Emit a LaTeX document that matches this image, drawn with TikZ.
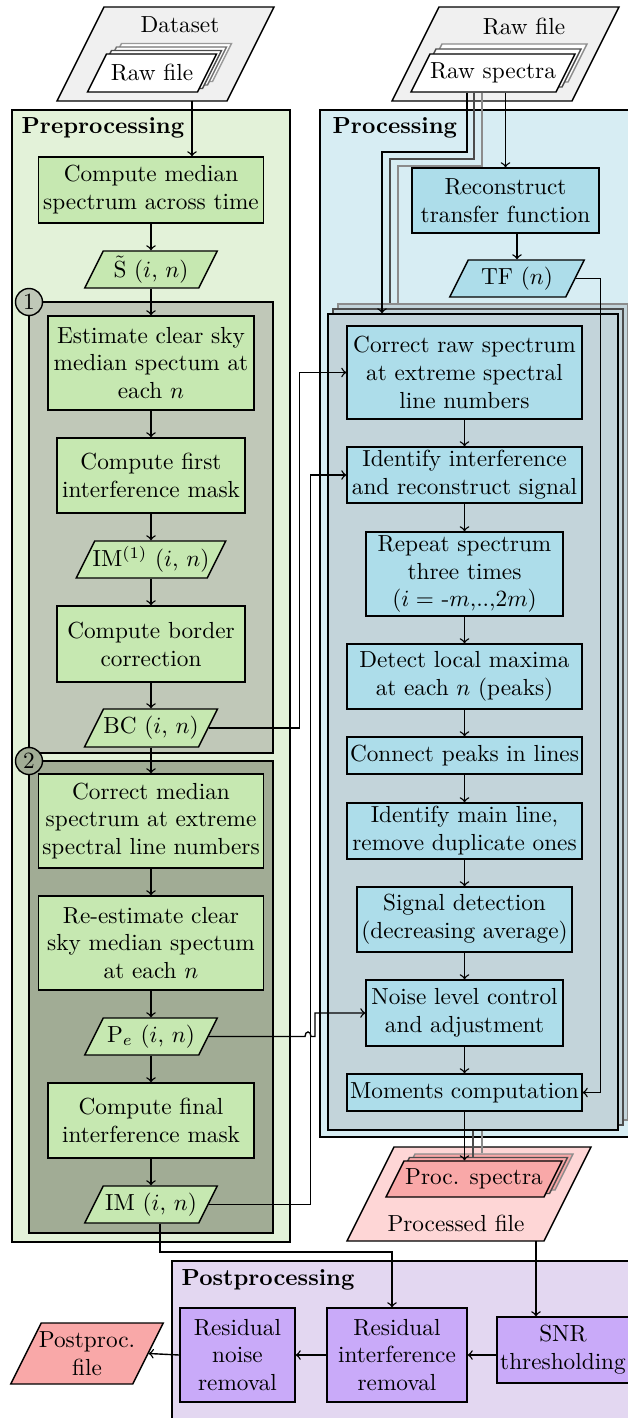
\documentclass[tikz,border=0pt]{standalone}
\usetikzlibrary{calc}

\definecolor{prebg}{HTML}{E3F2D9}
\definecolor{prefill}{HTML}{C6E8B1}
\definecolor{grpone}{HTML}{C0C8B8}
\definecolor{grptwo}{HTML}{A1AC95}
\definecolor{procbg}{HTML}{D7EDF3}
\definecolor{procfill}{HTML}{ADDDEA}
\definecolor{stackfill}{HTML}{C3D4DA}
\definecolor{outbg}{HTML}{FED6D6}
\definecolor{outfill}{HTML}{F9A8A8}
\definecolor{postbg}{HTML}{E3D7F1}
\definecolor{postfill}{HTML}{C9AAF9}
\definecolor{filebg}{HTML}{F0F0F0}

\def\pxu{0.43pt}
\tikzset{
  sz/.style 2 args={minimum width=#1*\pxu, minimum height=#2*\pxu},
  box/.style={draw, align=center, inner sep=0pt},
  prebox/.style={box, fill=prefill},
  procbox/.style={box, fill=procfill},
  postbox/.style={box, fill=postfill},
  stackbox/.style={draw, fill=stackfill, inner sep=0pt},
  dat/.style={align=center, inner sep=0pt},
  grpnum/.style={circle, draw, inner sep=0pt, minimum size=27*\pxu},
  grplab/.style={anchor=west, inner sep=0pt, font=\bfseries},
}
% rovnobeznik: farba ciary; x, y, sirka, vyska, vypln
\newcommand{\datshape}[6][black]{%
  \draw[draw=#1, fill=#6] (#2-#4/2-#5/4,#3+#5/2) -- (#2+#4/2-#5/4,#3+#5/2)
    -- (#2+#4/2+#5/4,#3-#5/2) -- (#2-#4/2+#5/4,#3-#5/2) -- cycle;}
% rovnobeznik s uzlom: farba; meno, x, y, sirka, vyska, vypln, text
\newcommand{\datnode}[8][black]{%
  \datshape[#1]{#3}{#4}{#5}{#6}{#7}
  \node[dat, sz={#5}{#6}] (#2) at (#3,#4) {#8};}

\begin{document}
\begin{tikzpicture}[x=0.43pt, y=-0.43pt, semithick]
\useasboundingbox (0,0) rectangle (627,1418);
% dataset
\datshape{165.5}{54}{170}{94}{filebg}
\node[dat] (dslab) at (180,25) {Dataset};
\datshape[black!40]{167}{62.5}{110}{38}{white}
\datshape[black!55]{162}{66}{110}{38}{white}
\datshape[black!70]{157}{69.5}{110}{38}{white}
\datnode{rawf}{152}{73}{110}{38}{white}{Raw file}
% raw file
\datshape{505.5}{54}{180}{94}{filebg}
\node[dat] (rflab) at (524,27) {Raw file};
\datshape[black!45]{505}{63}{145}{38}{white}
\datshape[black!70]{499}{68}{145}{38}{white}
\datnode{rs}{493}{73}{145}{38}{white}{Raw spectra}

% preprocessing
\draw[fill=prebg] (12,110) rectangle (290,1242);
\node[grplab] (prelab) at (21,128) {Preprocessing};
\draw[fill=grpone] (29,302) rectangle (273,753);
\draw[fill=grptwo] (29,761) rectangle (273,1233);
\node[grpnum, fill=grpone] (one) at (29,302) {1};
\node[grpnum, fill=grptwo] (two) at (29,761) {2};
\node[prebox, sz={225}{66}] (med) at (151,190) {Compute median\\spectrum across time};
\datnode{st}{151}{269.5}{114}{37}{prefill}{$\tilde{\mathrm{S}}$ ($i$, $n$)}
\node[prebox, sz={206}{94}] (est) at (151,363) {Estimate clear sky\\median spectum at\\each $n$};
\node[prebox, sz={188}{75}] (fim) at (151,475.5) {Compute first\\interference mask};
\datnode{imone}{151}{559.5}{131}{37}{prefill}{IM$^{(1)}$ ($i$, $n$)}
\node[prebox, sz={188}{76}] (bor) at (151,644) {Compute border\\correction};
\datnode{bc}{151}{728}{114}{38}{prefill}{BC ($i$, $n$)}
\node[prebox, sz={225}{94}] (cme) at (151,821) {Correct median\\spectrum at extreme\\spectral line numbers};
\node[prebox, sz={225}{94}] (rest) at (151,943) {Re-estimate clear\\sky median spectum\\at each $n$};
\datnode{pe}{151}{1036.5}{114}{37}{prefill}{P$_e$ ($i$, $n$)}
\node[prebox, sz={206}{75}] (fin) at (151,1120.5) {Compute final\\interference mask};
\datnode{im}{151}{1204.5}{114}{37}{prefill}{IM ($i$, $n$)}

% processing
\draw[fill=procbg] (320,110) rectangle (640,1137);
\node[grplab] (proclab) at (332,128) {Processing};
% processed file
\datshape{469}{1194}{197}{94}{outbg}
\node[dat] (pflab) at (456,1223) {Processed file};
\datnode[black!45]{psc}{485}{1172}{158}{36}{outfill}{}
\datnode[black!70]{psb}{479.5}{1175.5}{158}{36}{outfill}{}
\datnode{ps}{474}{1179}{158}{36}{outfill}{Proc. spectra}
% kopie spektier
\draw[black!45] ($(rs.south)+(-11,0)$) |- (398,166) -- (398,304);
\draw[black!70] ($(rs.south)+(-19,0)$) |- (390,159) -- (390,309);
\node[stackbox, draw=black!45, sz={290}{816}] (stkc) at (483,712) {};
\draw[black!45] (482,0 |- stkc.south) -- (482,0 |- psc.north);
\node[stackbox, draw=black!70, sz={290}{816}] (stkb) at (478,717) {};
\draw[black!70] (473,0 |- stkb.south) -- (473,0 |- psb.north);
\node[stackbox, sz={290}{816}] (stka) at (473,722) {};
\node[procbox, sz={187}{65}] (tf) at (505.5,200.5) {Reconstruct\\transfer function};
\datnode{tfn}{517}{278.5}{116}{37}{procfill}{TF ($n$)}
\node[procbox, sz={235}{93}] (crs) at (464.5,372.5) {Correct raw spectrum\\at extreme spectral\\line numbers};
\node[procbox, sz={235}{56}] (idi) at (464.5,475) {Identify interference\\and reconstruct signal};
\node[procbox, sz={197}{84}] (rep) at (464.5,574) {Repeat spectrum\\three times\\($i =$ -$m$,..,2$m$)};
\node[procbox, sz={235}{65}] (det) at (464.5,676.5) {Detect local maxima\\at each $n$ (peaks)};
\node[procbox, sz={235}{37}] (con) at (464.5,755.5) {Connect peaks in lines};
\node[procbox, sz={235}{56}] (idm) at (464.5,831) {Identify main line,\\remove duplicate ones};
\node[procbox, sz={215}{65}] (sig) at (464.5,919.5) {Signal detection\\(decreasing average)};
\node[procbox, sz={197}{66}] (noi) at (464.5,1013) {Noise level control\\and adjustment};
\node[procbox, sz={235}{37}] (mom) at (464.5,1092.5) {Moments computation};

% postprocessing
\draw[fill=postbg] (172,1261) rectangle (640,1430);
\node[grplab] (postlab) at (181,1280) {Postprocessing};
\node[postbox, sz={132}{66}] (snr) at (563,1350) {SNR\\thresholding};
\node[postbox, sz={140}{94}] (rir) at (397,1355) {Residual\\interference\\removal};
\node[postbox, sz={115}{94}] (rnr) at (237.5,1355) {Residual\\noise\\removal};
\datnode{ppf}{87}{1353.5}{122}{61}{outfill}{Postproc.\\file}

% sipky
\coordinate (dsout) at (192,101);
\draw[-to] (dsout) -- (dsout |- med.north);
\draw[-to] (med) -- (st);
\draw[-to] (st) -- (est);
\draw[-to] (est) -- (fim);
\draw[-to] (fim) -- (imone);
\draw[-to] (imone) -- (bor);
\draw[-to] (bor) -- (bc);
\draw[-to] (bc) -- (cme);
\draw[-to] (cme) -- (rest);
\draw[-to] (rest) -- (pe);
\draw[-to] (pe) -- (fin);
\draw[-to] (fin) -- (im);
\draw[-to] ($(rs.south)+(-26,0)$) |- (382,152) -- (382,0 |- stka.north);
\draw[-to] (rs.south -| tf.north) -- (tf.north);
\draw[-to] (tfn.north |- tf.south) -- (tfn.north);
\draw[-to] (crs) -- (idi);
\draw[-to] (idi) -- (rep);
\draw[-to] (rep) -- (det);
\draw[-to] (det) -- (con);
\draw[-to] (con) -- (idm);
\draw[-to] (idm) -- (sig);
\draw[-to] (sig) -- (noi);
\draw[-to] (noi) -- (mom);
\draw[-to] (mom.south) -- (mom.south |- ps.north);
\draw[-to] (tfn.east) -- ++(25,0) |- (mom.east);
\draw[-to] (bc.east) -- ++(91,0) |- (crs.west);
\draw[-to] (im.east) -- ++(102,0) |- (idi.west);
\draw[-to] (pe.east) -- (pe.east -| 305,0) .. controls +(0,-6) and +(0,-6) .. (pe.east -| 311,0)
  -- (pe.east -| 315,0) |- (noi.west);
\draw[-to] ($(im.south)+(9,0)$) |- (392,1252) -- (392,0 |- rir.north);
\coordinate (pfout) at (536,1241);
\draw[-to] (pfout) -- (pfout |- snr.north);
\draw[-to] (snr.west |- rir.east) -- (rir.east);
\draw[-to] (rir.west) -- (rnr.east);
\draw[-to] (rnr.west) -- (ppf.east);
\end{tikzpicture}
\end{document}
